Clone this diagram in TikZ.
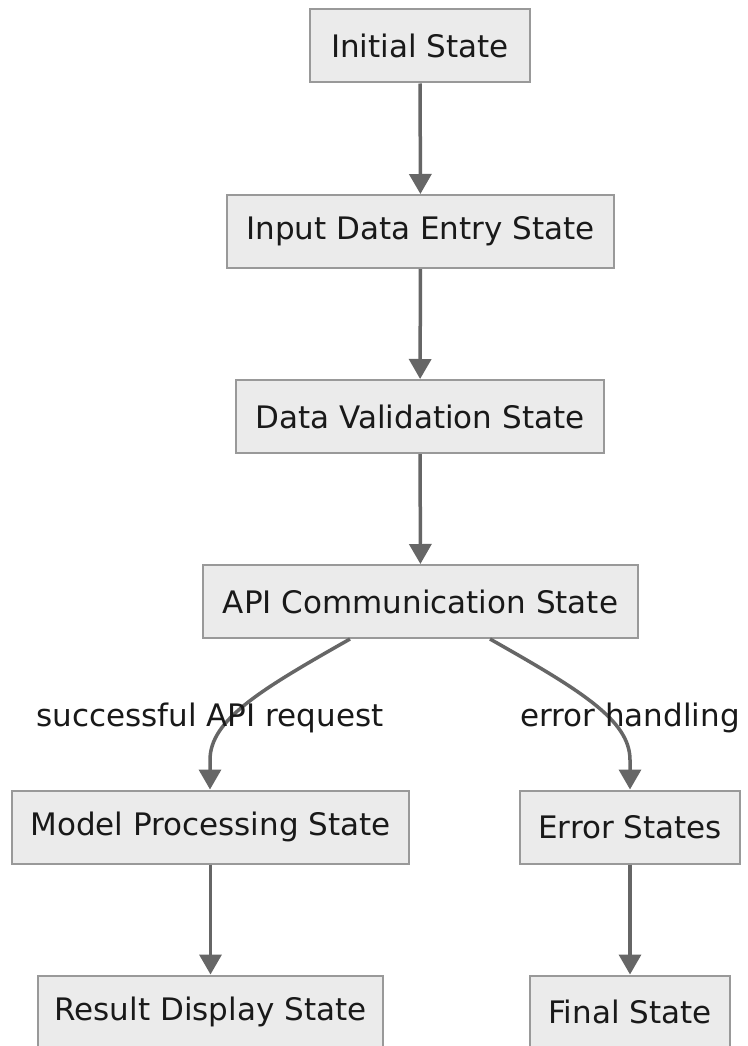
\documentclass[tikz,border=0pt]{standalone}
\usepackage{fontspec}
\setmainfont{DejaVu Sans}
\usetikzlibrary{arrows.meta}
\begin{document}
\begin{tikzpicture}[x=1pt,y=-1pt,
  state/.style={draw=black!40, line width=2pt, fill=black!8, minimum height=73pt,
    inner xsep=0pt, font=\fontsize{31}{36}\selectfont, text=black!90},
  flow/.style={draw=black!60, line width=3.5pt,
    -{Triangle[width=22pt,length=20pt]}},
  lbl/.style={font=\fontsize{31}{36}\selectfont, text=black!90}]
\useasboundingbox (0,0) rectangle (747,1046);
\clip (0,0) rectangle (747,1046);
\fill[white] (0,0) rectangle (747,1046);

\node[state, minimum width=220pt] (init) at (420,46) {Initial State};
\node[state, minimum width=387pt] (input) at (420.5,231.5) {Input Data Entry State};
\node[state, minimum width=368pt] (valid) at (420,416.5) {Data Validation State};
\node[state, minimum width=435pt] (api) at (420.5,601.5) {API Communication State};
\node[state, minimum width=397pt] (model) at (210.5,827) {Model Processing State};
\node[state, minimum width=220pt] (err) at (630,827) {Error States};
\node[state, minimum width=345pt] (result) at (210.5,1012) {Result Display State};
\node[state, minimum width=200pt] (final) at (630,1012) {Final State};

\draw[flow] (init) -- (input);
\draw[flow] (input) -- (valid);
\draw[flow] (valid) -- (api);
\draw[flow] (api.south -| 350,0) .. controls (260,690) and (210,720) .. (210,760) -- (model.north -| 210,0);
\draw[flow] (api.south -| 490,0) .. controls (580,690) and (630,720) .. (630,760) -- (err.north -| 630,0);
\draw[flow] (model) -- (result);
\draw[flow] (err) -- (final);

\node[lbl] (lsucc) at (210,718) {successful API request};
\node[lbl] (lerr) at (630,718) {error handling};
\end{tikzpicture}
\end{document}
